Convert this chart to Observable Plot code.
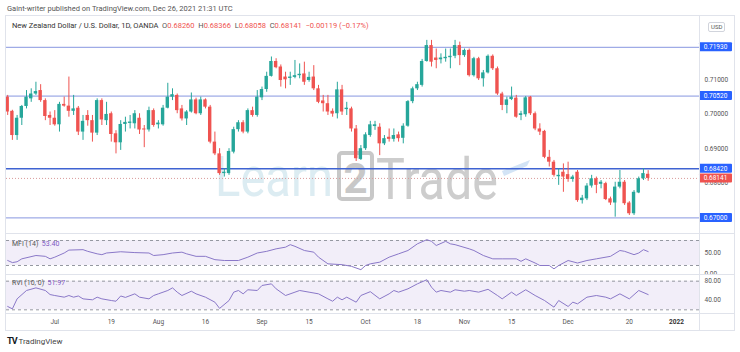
<!DOCTYPE html>
<html><head><meta charset="utf-8">
<script src="https://cdn.jsdelivr.net/npm/d3@7"></script>
<script src="https://cdn.jsdelivr.net/npm/@observablehq/plot@0.6"></script>
<style>
html,body{margin:0;padding:0;background:#fff;}
#wrap{position:relative;width:740px;height:352px;overflow:hidden;background:#fff;font-family:Roboto,"Liberation Sans",sans-serif;color:#555;}
.a{position:absolute;white-space:nowrap;line-height:9px;}
.ln{position:absolute;background:#e0e3eb;}
.r{color:#ef5350;}
.p{color:#7e57c2;}
</style></head><body><div id="wrap"></div>
<script>
// ---------- DATA (NZD/USD daily, OANDA) ----------
const firstBar = -10; // bar index of first candle (Jul 1 2021 = 0, trading days)
const open = [
0.7049,0.7008,0.6938,0.6988,0.7022,0.7044,0.7058,0.7068,0.7039,0.6996,
0.6988,0.6969,0.7028,0.7023,0.7008,0.7017,0.6948,0.6996,0.6981,0.6945,
0.7039,0.6981,0.7001,0.6943,0.6917,0.6970,0.6973,0.6972,0.6988,0.6957,
0.6954,0.7010,0.6969,0.6969,0.7017,0.7049,0.7054,0.7015,0.6986,0.7006,
0.7041,0.7001,0.7041,0.7020,0.6919,0.6885,0.6828,0.6828,0.6890,0.6955,
0.6975,0.6948,0.7010,0.6996,0.7047,0.7071,0.7109,0.7152,0.7136,0.7107,
0.7103,0.7106,0.7111,0.7116,0.7097,0.7107,0.7073,0.7038,0.7030,0.7008,
0.7001,0.7070,0.7013,0.7015,0.6957,0.6869,0.6900,0.6938,0.6964,0.6962,
0.6914,0.6933,0.6927,0.6940,0.6930,0.6965,0.7036,0.7073,0.7083,0.7152,
0.7198,0.7162,0.7157,0.7160,0.7163,0.7167,0.7198,0.7169,0.7184,0.7111,
0.7160,0.7102,0.7119,0.7167,0.7131,0.7058,0.7025,0.7042,0.7046,0.6996,
0.6998,0.7049,0.7001,0.6957,0.6950,0.6875,0.6861,0.6819,0.6832,0.6825,
0.6811,0.6832,0.6750,0.6755,0.6792,0.6813,0.6797,0.6799,0.6755,0.6743,
0.6789,0.6803,0.6743,0.6712,0.6772,0.6813,0.68260];
const high = [
0.7054,0.7011,0.6996,0.7025,0.7068,0.7073,0.7092,0.7085,0.7044,0.7006,
0.7010,0.7034,0.7049,0.7107,0.7054,0.7022,0.6996,0.7010,0.6996,0.7044,
0.7044,0.7034,0.7006,0.6952,0.6981,0.6991,0.6996,0.7010,0.7001,0.6967,
0.7020,0.7015,0.6981,0.7025,0.7089,0.7073,0.7058,0.7025,0.7010,0.7061,
0.7046,0.7049,0.7044,0.7025,0.6948,0.6900,0.6842,0.6900,0.6962,0.6981,
0.6981,0.7015,0.7020,0.7068,0.7078,0.7121,0.7165,0.7160,0.7142,0.7121,
0.7121,0.7155,0.7145,0.7150,0.7121,0.7140,0.7083,0.7054,0.7054,0.7015,
0.7092,0.7083,0.7034,0.7020,0.6967,0.6909,0.6946,0.6979,0.6979,0.6972,
0.6938,0.6957,0.6957,0.6948,0.6972,0.7039,0.7078,0.7092,0.7158,0.7213,
0.7213,0.7188,0.7174,0.7188,0.7188,0.7213,0.7208,0.7188,0.7188,0.7164,
0.7164,0.7126,0.7171,0.7171,0.7136,0.7063,0.7049,0.7078,0.7054,0.7008,
0.7051,0.7051,0.7006,0.6972,0.6953,0.6895,0.6866,0.6842,0.6856,0.6861,
0.6823,0.6837,0.6765,0.6799,0.6823,0.6818,0.6808,0.6803,0.6760,0.6803,
0.6837,0.6808,0.6747,0.6779,0.6818,0.6842,0.68366];
const low = [
0.6996,0.6924,0.6924,0.6967,0.7015,0.7034,0.7054,0.7034,0.6981,0.6967,
0.6965,0.6948,0.7020,0.6991,0.6996,0.6938,0.6924,0.6965,0.6919,0.6938,
0.6967,0.6967,0.6919,0.6885,0.6895,0.6948,0.6957,0.6957,0.6941,0.6903,
0.6948,0.6962,0.6957,0.6965,0.7015,0.7039,0.7001,0.6980,0.6967,0.7003,
0.6998,0.6996,0.7015,0.6914,0.6880,0.6823,0.6818,0.6823,0.6885,0.6948,
0.6943,0.6943,0.6991,0.6991,0.7039,0.7063,0.7107,0.7131,0.7078,0.7073,
0.7083,0.7102,0.7102,0.7083,0.7092,0.7068,0.7030,0.7006,0.6996,0.6991,
0.6986,0.6996,0.6996,0.6948,0.6863,0.6866,0.6895,0.6933,0.6953,0.6880,
0.6909,0.6919,0.6919,0.6919,0.6914,0.6962,0.7030,0.7068,0.7078,0.7150,
0.7136,0.7131,0.7145,0.7150,0.7131,0.7160,0.7140,0.7164,0.7107,0.7107,
0.7097,0.7078,0.7116,0.7126,0.7054,0.7010,0.7001,0.7039,0.6988,0.6981,
0.6991,0.6996,0.6952,0.6938,0.6871,0.6847,0.6818,0.6794,0.6774,0.6803,
0.6803,0.6745,0.6740,0.6750,0.6786,0.6770,0.6784,0.6750,0.6736,0.6702,
0.6784,0.6736,0.6707,0.6707,0.6770,0.6808,0.68058];
const close = [
0.7006,0.6938,0.6988,0.7022,0.7049,0.7058,0.7065,0.7039,0.6993,0.6988,
0.6969,0.7028,0.7023,0.7008,0.7015,0.6948,0.6979,0.6981,0.6945,0.7039,
0.6983,0.6999,0.6941,0.6917,0.6970,0.6976,0.6977,0.7001,0.6954,0.6954,
0.7010,0.6967,0.6974,0.7017,0.7049,0.7056,0.7010,0.6986,0.7006,0.7041,
0.7001,0.7041,0.7020,0.6919,0.6885,0.6828,0.6832,0.6892,0.6955,0.6975,
0.6948,0.7010,0.6996,0.7049,0.7071,0.7109,0.7152,0.7134,0.7097,0.7099,
0.7107,0.7111,0.7115,0.7092,0.7106,0.7073,0.7034,0.7030,0.7006,0.7000,
0.7070,0.7006,0.7017,0.6957,0.6871,0.6900,0.6940,0.6969,0.6969,0.6914,
0.6929,0.6927,0.6938,0.6929,0.6965,0.7036,0.7073,0.7085,0.7152,0.7198,
0.7150,0.7155,0.7162,0.7164,0.7167,0.7198,0.7169,0.7184,0.7111,0.7160,
0.7102,0.7119,0.7167,0.7131,0.7058,0.7025,0.7041,0.7049,0.6991,0.7001,
0.7047,0.7001,0.6957,0.6948,0.6875,0.6861,0.6823,0.6823,0.6818,0.6811,
0.6818,0.6750,0.6757,0.6792,0.6813,0.6794,0.6803,0.6753,0.6743,0.6789,
0.6803,0.6741,0.6712,0.6774,0.6813,0.6828,0.68141];

const levels = [0.7193, 0.7052, 0.6842, 0.6700];
const levelLabels = ["0.71930", "0.70520", "0.68420", "0.67000"];
const lastPrice = 0.68141;
const lastLabel = "0.68141";
const priceTicks = [0.71, 0.70, 0.69, 0.68];

const mfiBar = [-10,-9,-8,-7,-4,-2,-1,0,2,3,6,7,9,10,11,14,17,20,21,23,25,27,28,30,32,34,36,39,41,43,45,47,49,50,51,53,55,56,58,61,63,65,66,67,69,71,73,75,77,79,80,81,83,84,85,88,89,91,93,95,98,99,100,102,103,105,106,107,109,111,113,115,118,120,121,123,124,125,126];
const mfiVal = [32,27,29,36,44,42,36,40,50,57,58,54,48,46,50,53,51,50,44,46,50,52,48,42,42,34,32,32,40,50,54,60,64,70,66,56,52,40,24,22,18,10,20,24,28,40,48,56,72,82,78,68,78,72,70,60,56,44,36,36,36,30,36,26,20,20,12,20,32,26,32,36,42,56,54,46,50,58,53.4];
const rviBar = [-10,-9,-8,-6,-4,-2,-1,0,2,3,4,5,6,8,9,10,12,13,14,15,17,18,20,21,22,24,25,26,27,29,30,32,34,35,37,38,39,40,41,43,44,46,47,49,51,52,54,56,58,59,60,61,62,64,65,67,69,71,72,73,75,77,79,80,81,82,84,85,87,88,90,92,94,95,97,98,100,102,104,106,107,109,110,111,113,115,117,118,120,122,124,126];
const rviVal = [27,22,43,60.5,66,60.5,52,50,46.5,50,46.5,49,43,41,46.5,43,39.5,38,49,46,53.5,46.5,43,50,53.5,60.5,66,57,50,59,53.5,46.5,36,23,39.5,57,60.5,53.5,62,60.5,71,74.4,64,50,57,60.5,57,53.5,43,38,46.5,41,46.5,36,50,58,43,53.5,60.5,57,64,74.4,83,67.4,57,60.5,57,62,59,60.5,57,63,50,43,57,50,62,50,39.5,25.6,39.5,27,36,32.5,46.5,50,46.5,43,53.5,43,60.5,51.97];
const oscBand = [20, 80];
const mfiTicks = [50, 0];
const rviTicks = [80, 40];

const tickBars = [0,12,22,32,44,54,66,77,87,97,109,122,132];
const tickLabels = ["Jul","19","Aug","16","Sep","15","Oct","18","Nov","15","Dec","20","2022"];

// ---------- BUILD ----------
const candles = open.map((o, i) => ({bar: firstBar + i, o, h: high[i], l: low[i], c: close[i], dir: close[i] >= o ? "up" : "down"}));
const mfi = mfiBar.map((b, i) => ({bar: b, v: mfiVal[i]}));
const rvi = rviBar.map((b, i) => ({bar: b, v: rviVal[i]}));
const ticks = tickBars.map((b, i) => ({bar: b, label: tickLabels[i]}));

const GREEN = "#26a69a", RED = "#ef5350", LEVEL = "#8796e0", LEVEL2 = "#3f63d2", BLUEBOX = "#2962ff";
const XD = [-10.25, 136.9];
const base = {width: 740, marginLeft: 6, marginRight: 41, marginTop: 0, marginBottom: 0,
  style: {background: "transparent", fontFamily: "Roboto, 'Liberation Sans', sans-serif", fontSize: "6.5px", color: "#555"}};

const wrap = document.getElementById("wrap");
function put(el, left, top) { el.style.position = "absolute"; el.style.left = left + "px"; el.style.top = top + "px"; wrap.appendChild(el); return el; }
function txt(html, left, top, css) { const d = document.createElement("div"); d.className = "a"; d.innerHTML = html; if (css) d.style.cssText += css; return put(d, left, top); }
function line(left, top, w, h, color) { const d = document.createElement("div"); d.className = "ln"; d.style.width = w + "px"; d.style.height = h + "px"; if (color) d.style.background = color; return put(d, left, top); }

// watermark (under the chart)
const ns = "http://www.w3.org/2000/svg";
const wm = document.createElementNS(ns, "svg");
wm.setAttribute("width", 740); wm.setAttribute("height", 352);
wm.innerHTML = `
<text x="215" y="196" font-family="Roboto, sans-serif" font-size="56" fill="#dcecf2" textLength="118" lengthAdjust="spacingAndGlyphs">Learn</text>
<rect x="339" y="153" width="33" height="46" rx="3" fill="none" stroke="#c8c8c8" stroke-width="4"/>
<text x="355.5" y="193" text-anchor="middle" font-family="Roboto, sans-serif" font-weight="bold" font-size="42" fill="#c8c8c8">2</text>
<text x="376" y="199" font-family="Roboto, sans-serif" font-size="58" fill="#cdcdcd" textLength="122" lengthAdjust="spacingAndGlyphs">Trade</text>
<polygon points="502,171 530,160 527,166 504,176" fill="#d3e4f6"/>`;
put(wm, 0, 0);

// main price pane
const main = Plot.plot({...base, height: 217,
  x: {domain: XD, axis: null},
  y: {domain: [0.66549, 0.72820], axis: "right", ticks: priceTicks, tickFormat: d3.format(".5f"), tickSize: 0, tickPadding: 5, label: null},
  color: {domain: ["up", "down"], range: [GREEN, RED]},
  marks: [
    Plot.ruleY(levels.filter(v => v !== 0.6842), {stroke: LEVEL, strokeWidth: 1}),
    Plot.ruleY(levels.filter(v => v === 0.6842), {stroke: LEVEL2, strokeWidth: 1.6}),
    Plot.ruleY([lastPrice], {stroke: "#d99a9a", strokeWidth: 1, strokeDasharray: "1,2"}),
    Plot.ruleX(candles, {x: "bar", y1: "l", y2: "h", stroke: "dir", strokeWidth: 1}),
    Plot.rect(candles, {x1: d => d.bar - 0.36, x2: d => d.bar + 0.36, y1: "o", y2: "c", fill: "dir"})
  ]});
put(main, 0, 16);
// price labels on the axis (positioned with the plot's own y scale)
{
  const ys = main.scale("y");
  const g = d3.select(main).append("g").attr("font-size", 6.5).attr("font-family", "Roboto, sans-serif");
  const items = levels.map((v, i) => ({v, t: levelLabels[i], f: BLUEBOX})).concat([{v: lastPrice, t: lastLabel, f: RED}]);
  for (const it of items) {
    const y = ys.apply(it.v);
    g.append("rect").attr("x", 699).attr("y", y - 4.5).attr("width", 33).attr("height", 9).attr("rx", 1).attr("fill", it.f);
    g.append("text").attr("x", 715.5).attr("y", y).attr("dy", "0.35em").attr("text-anchor", "middle").attr("fill", "#fff").text(it.t);
  }
}

// MFI pane
const mfiPlot = Plot.plot({...base, height: 40,
  x: {domain: XD, axis: null},
  y: {domain: [-1.6, 94.4], axis: "right", ticks: mfiTicks, tickFormat: d3.format(".2f"), tickSize: 0, tickPadding: 5, label: null},
  marks: [
    Plot.rect([oscBand], {x1: () => XD[0], x2: () => XD[1], y1: d => d[0], y2: d => d[1], fill: "#7e57c2", fillOpacity: 0.1}),
    Plot.ruleY(oscBand, {stroke: "#9598a1", strokeDasharray: "3,3"}),
    Plot.line(mfi, {x: "bar", y: "v", stroke: "#8a78c8", strokeWidth: 1})
  ]});
put(mfiPlot, 0, 234);

// RVI pane
const rviPlot = Plot.plot({...base, height: 39,
  x: {domain: XD, axis: null},
  y: {domain: [12.3, 94], axis: "right", ticks: rviTicks, tickFormat: d3.format(".2f"), tickSize: 0, tickPadding: 5, label: null},
  marks: [
    Plot.rect([oscBand], {x1: () => XD[0], x2: () => XD[1], y1: d => d[0], y2: d => d[1], fill: "#7e57c2", fillOpacity: 0.1}),
    Plot.ruleY(oscBand, {stroke: "#9598a1", strokeDasharray: "3,3"}),
    Plot.line(rvi, {x: "bar", y: "v", stroke: "#8a78c8", strokeWidth: 1})
  ]});
put(rviPlot, 0, 274);

// time axis
const timePlot = Plot.plot({...base, height: 17,
  x: {domain: XD, axis: null},
  marks: [
    Plot.text(ticks.filter(d => d.label !== "2022"), {x: "bar", text: "label", fill: "#555", fontSize: 6.5}),
    Plot.text(ticks.filter(d => d.label === "2022"), {x: "bar", text: "label", fill: "#333", fontSize: 6.5, fontWeight: "bold"})
  ]});
put(timePlot, 0, 313);

// frame & separators
line(5, 15, 730, 1);
line(5, 330, 730, 1);
line(5, 15, 1, 316);
line(734, 15, 1, 316);
line(699, 15, 1, 316);
line(5, 233, 730, 1);
line(5, 274, 730, 1);
line(5, 313, 730, 1);

// texts
txt("Gaint-writer published on TradingView.com, Dec 26, 2021 21:31 UTC", 7, 3.5, "font-size:7.5px;color:#555;");
txt('<span style="color:#333">New Zealand Dollar / U.S. Dollar, 1D, OANDA</span>&nbsp; O<span class="r">0.68260</span>&nbsp; H<span class="r">0.68366</span>&nbsp; L<span class="r">0.68058</span>&nbsp; C<span class="r">0.68141</span>&nbsp; <span class="r">\u22120.00119 (\u22120.17%)</span>', 12, 20.5, "font-size:7.5px;color:#555;");
txt("USD", 708, 21.5, "font-size:6px;color:#555;border:1px solid #d1d4dc;border-radius:2px;padding:0 2px;line-height:8px;");
txt('MFI (14)&nbsp; <span class="p">53.40</span>', 12, 239.5, "font-size:7px;color:#555;");
txt('RVI (10, 0)&nbsp; <span class="p">51.97</span>', 12, 278.5, "font-size:7px;color:#555;");
txt('<b style="color:#131722;font-size:9px;letter-spacing:-1px">TV</b>&nbsp;TradingView', 7, 336.5, "font-size:8px;color:#444;");
</script></body></html>
